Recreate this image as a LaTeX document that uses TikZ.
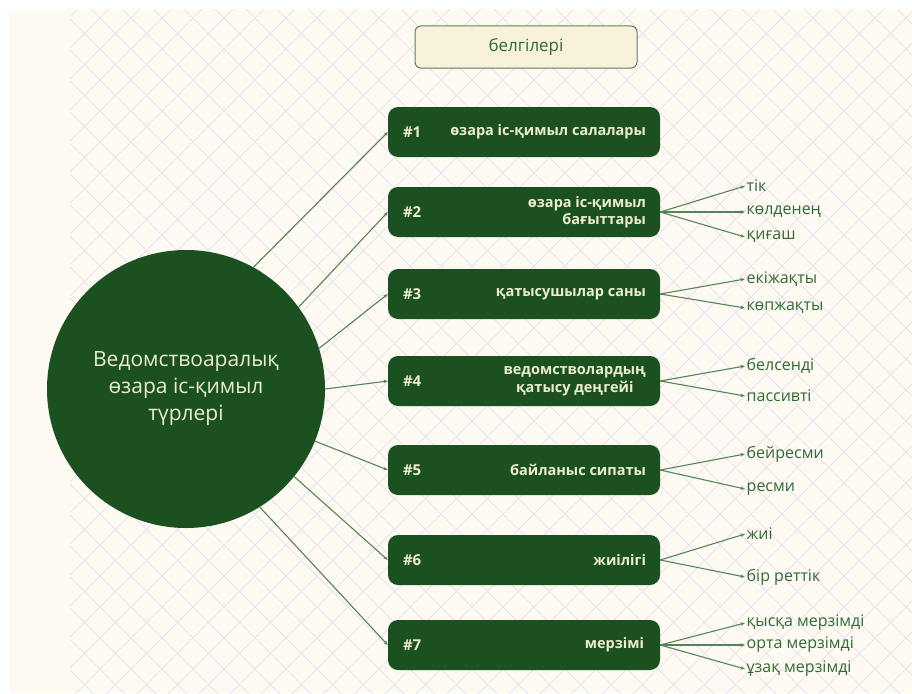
\documentclass[tikz,border=0pt]{standalone}
\usepackage{fontspec}
\setmainfont{Open Sans}
\usetikzlibrary{arrows.meta}
\definecolor{dgreen}{HTML}{1B5121}
\definecolor{cream}{HTML}{FEFAF2}
\definecolor{gridc}{HTML}{E8E3F2}
\definecolor{ctext}{HTML}{EDEBD2}
\definecolor{lgreen}{HTML}{55845A}
\definecolor{labc}{HTML}{2F6A37}
\definecolor{titlefill}{HTML}{F8F2DC}
\begin{document}
\begin{tikzpicture}[x=1pt,y=-1pt,
  catbox/.style={rounded corners=10pt, fill=dgreen, minimum width=272pt, minimum height=50pt, inner sep=0pt},
  numtext/.style={text=ctext, font=\fontsize{15}{18}\selectfont\bfseries, anchor=west, inner sep=0pt},
  cattext/.style={text=ctext, font=\fontsize{14.5}{17.5}\selectfont\bfseries, anchor=east, align=right, inner sep=0pt},
  conn/.style={draw=lgreen, line width=1.1pt, -{Stealth[length=4.5pt,width=3.5pt]}},
  subconn/.style={draw=lgreen, line width=1.1pt, -{Stealth[length=4.5pt,width=3.5pt]}},
  lab/.style={text=labc, font=\fontsize{16}{19}\selectfont, anchor=west, inner xsep=1.5pt, inner ysep=0pt}
]
\useasboundingbox (0,0) rectangle (912,693);
\fill[white] (0,0) rectangle (912,693);
\fill[cream] (9,10) rectangle (912,693);
\begin{scope}
  \clip (70,10) rectangle (912,693);
  \foreach \k in {-24,...,28} {\draw[gridc, line width=0.9pt] ({82+31*\k},0) -- ++(700,700);}
  \foreach \m in {-3,...,49} {\draw[gridc, line width=0.9pt] ({118+31*\m},0) -- ++(-700,700);}
\end{scope}

% title
\node[rounded corners=6pt, draw=lgreen, fill=titlefill, minimum width=222pt, minimum height=42pt, line width=1pt, text=labc, font=\fontsize{17}{20}\selectfont] (title) at (526,47) {белгілері};

% central circle
\node[circle, fill=dgreen, minimum size=278pt, inner sep=0pt, text=ctext, font=\fontsize{21}{27}\selectfont, align=center] (c) at (186,389) {Ведомствоаралық\\өзара іс-қимыл\\түрлері};

% category boxes
\node[catbox] (b1) at (524,132) {};
\node[catbox] (b2) at (524,212) {};
\node[catbox] (b3) at (524,294) {};
\node[catbox] (b4) at (524,381) {};
\node[catbox] (b5) at (524,470) {};
\node[catbox] (b6) at (524,560) {};
\node[catbox] (b7) at (524,645) {};

\node[numtext] (n1) at ([xshift=15pt]b1.west) {\#1};
\node[numtext] (n2) at ([xshift=15pt]b2.west) {\#2};
\node[numtext] (n3) at ([xshift=15pt]b3.west) {\#3};
\node[numtext] (n4) at ([xshift=15pt]b4.west) {\#4};
\node[numtext] (n5) at ([xshift=15pt]b5.west) {\#5};
\node[numtext] (n6) at ([xshift=15pt]b6.west) {\#6};
\node[numtext] (n7) at ([xshift=15pt]b7.west) {\#7};

\node[cattext] (t1) at ([xshift=-14pt]b1.east) {өзара іс-қимыл салалары};
\node[cattext] (t2) at ([xshift=-14pt]b2.east) {өзара іс-қимыл\\бағыттары};
\node[cattext] (t3) at ([xshift=-14pt]b3.east) {қатысушылар саны};
\node[cattext, align=center] (t4) at ([xshift=-14pt]b4.east) {ведомстволардың\\қатысу деңгейі};
\node[cattext] (t5) at ([xshift=-14pt]b5.east) {байланыс сипаты};
\node[cattext] (t6) at ([xshift=-14pt]b6.east) {жиілігі};
\node[cattext] (t7) at ([xshift=-16pt]b7.east) {мерзімі};

% connectors from circle
\draw[conn] (c.61.4) -- (b1.west);
\draw[conn] (c.36.1) -- (b2.west);
\draw[conn] (c.17) -- (b3.west);
\draw[conn] (c.-0.4) -- (b4.west);
\draw[conn] (c.-22.4) -- (b5.west);
\draw[conn] (c.-39.2) -- (b6.west);
\draw[conn] (c.-58.1) -- (b7.west);

% sub labels
\node[lab] (s21) at (745,186) {тік};
\node[lab] (s22) at (745,212) {көлденең};
\node[lab] (s23) at (745,237) {қиғаш};
\node[lab] (s31) at (745,279) {екіжақты};
\node[lab] (s32) at (745,308) {көпжақты};
\node[lab] (s41) at (745,366) {белсенді};
\node[lab] (s42) at (745,396) {пассивті};
\node[lab] (s51) at (745,454) {бейресми};
\node[lab] (s52) at (745,489) {ресми};
\node[lab] (s61) at (745,534) {жиі};
\node[lab] (s62) at (745,577) {бір реттік};
\node[lab] (s71) at (745,623) {қысқа мерзімді};
\node[lab] (s72) at (745,645) {орта мерзімді};
\node[lab] (s73) at (745,669) {ұзақ мерзімді};

\draw[subconn] (b2.east) -- (s21.west);
\draw[subconn] (b2.east) -- (s22.west);
\draw[subconn] (b2.east) -- (s23.west);
\draw[subconn] (b3.east) -- (s31.west);
\draw[subconn] (b3.east) -- (s32.west);
\draw[subconn] (b4.east) -- (s41.west);
\draw[subconn] (b4.east) -- (s42.west);
\draw[subconn] (b5.east) -- (s51.west);
\draw[subconn] (b5.east) -- (s52.west);
\draw[subconn] (b6.east) -- (s61.west);
\draw[subconn] (b6.east) -- (s62.west);
\draw[subconn] (b7.east) -- (s71.west);
\draw[subconn] (b7.east) -- (s72.west);
\draw[subconn] (b7.east) -- (s73.west);
\end{tikzpicture}
\end{document}
